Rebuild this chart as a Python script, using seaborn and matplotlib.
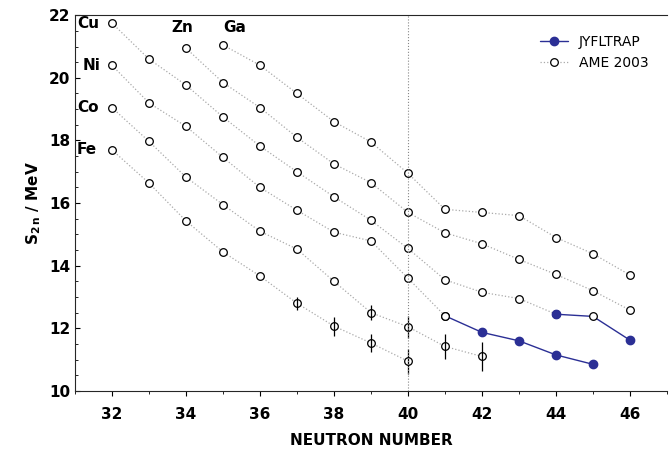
import numpy as np
import matplotlib
matplotlib.use("Agg")
import matplotlib.pyplot as plt
import seaborn as sns
from matplotlib.ticker import MultipleLocator

# AME 2003 chains
fe_n = [32, 33, 34, 35, 36, 37, 38, 39, 40]
fe_s = [17.7, 16.64, 15.43, 14.44, 13.67, 12.8, 12.07, 11.53, 10.95]
fe_e = [0, 0, 0, 0, 0, 0.2, 0.3, 0.3, 0.4]

co_n = [32, 33, 34, 35, 36, 37, 38, 39, 40, 41, 42]
co_s = [19.05, 17.97, 16.83, 15.95, 15.1, 14.53, 13.5, 12.5, 12.05, 11.42, 11.1]
co_e = [0, 0, 0, 0, 0, 0, 0, 0.25, 0.35, 0.4, 0.45]

ni_n = [32, 33, 34, 35, 36, 37, 38, 39, 40, 41]
ni_s = [20.4, 19.2, 18.45, 17.46, 16.5, 15.77, 15.07, 14.79, 13.6, 12.4]

cu_n = [32, 33, 34, 35, 36, 37, 38, 39, 40, 41, 42, 43, 44]
cu_s = [21.75, 20.6, 19.77, 18.75, 17.82, 17.0, 16.2, 15.45, 14.55, 13.55, 13.15, 12.95, 12.45]

zn_n = [34, 35, 36, 37, 38, 39, 40, 41, 42, 43, 44, 45, 46]
zn_s = [20.95, 19.85, 19.05, 18.1, 17.25, 16.65, 15.7, 15.05, 14.7, 14.2, 13.72, 13.2, 12.58]

ga_n = [35, 36, 37, 38, 39, 40, 41, 42, 43, 44, 45, 46]
ga_s = [21.05, 20.4, 19.5, 18.6, 17.95, 16.95, 15.8, 15.7, 15.6, 14.9, 14.38, 13.7]

# JYFLTRAP
ni_j_n = [41, 42, 43, 44, 45]
ni_j_s = [12.4, 11.87, 11.6, 11.15, 10.85]
cu_j_n = [44, 45, 46]
cu_j_s = [12.45, 12.38, 11.62]

labels = ["Cu", "Ni", "Co", "Fe", "Zn", "Ga"]
label_pos = [(31.05, 21.75), (31.2, 20.4), (31.05, 19.05), (31.05, 17.7), (33.6, 21.6), (35.0, 21.6)]

sns.set_style("ticks")
plt.rcParams["text.color"] = "black"
plt.rcParams["xtick.color"] = "black"
plt.rcParams["ytick.color"] = "black"
plt.rcParams["axes.labelcolor"] = "black"
fig = plt.figure(figsize=(6.69, 4.61), dpi=100)
ax = fig.add_axes([0.112, 0.152, 0.885, 0.815])

blue = "#2b2f95"
ame_kw = dict(color="#aaaaaa", lw=0.9, ls=":", marker="o", ms=5.5, mfc="white",
              mec="black", mew=0.9)
for n, s in [(fe_n, fe_s), (co_n, co_s), (ni_n, ni_s), (cu_n, cu_s), (zn_n, zn_s), (ga_n, ga_s)]:
    ax.plot(n, s, **ame_kw)
for n, s, e in [(fe_n, fe_s, fe_e), (co_n, co_s, co_e)]:
    ax.errorbar(n, s, yerr=e, fmt="none", ecolor="black", elinewidth=0.9, capsize=0)

ax.plot(ni_j_n, ni_j_s, color=blue, lw=1)
ax.plot(ni_j_n[1:], ni_j_s[1:], marker="o", ms=6, color=blue, ls="none")
ax.plot(cu_j_n, cu_j_s, color=blue, lw=1)
ax.plot([cu_j_n[0], cu_j_n[2]], [cu_j_s[0], cu_j_s[2]], marker="o", ms=6, color=blue, ls="none")
ax.plot([ni_j_n[0], cu_j_n[1]], [ni_j_s[0], cu_j_s[1]], ls="none", **{k: v for k, v in ame_kw.items() if k not in ("ls",)})

# legend proxies
ax.plot([], [], color=blue, lw=1, marker="o", ms=6, label="JYFLTRAP")
ax.plot([], [], label="AME 2003", **ame_kw)
ax.legend(loc="upper right", frameon=False, fontsize=10, bbox_to_anchor=(0.99, 0.98))

for t, (x, y) in zip(labels, label_pos):
    ax.text(x, y, t, fontsize=11, fontweight="bold", va="center", ha="left")

ax.axvline(40, color="#888888", lw=0.8, ls=":")
ax.set_xlim(31, 47)
ax.set_ylim(10, 22)
ax.xaxis.set_major_locator(MultipleLocator(2))
ax.xaxis.set_minor_locator(MultipleLocator(1))
ax.yaxis.set_major_locator(MultipleLocator(2))
ax.yaxis.set_minor_locator(MultipleLocator(0.5))
ax.tick_params(axis="y", which="both", direction="in", labelsize=11)
ax.tick_params(axis="x", which="both", direction="out", labelsize=11, pad=8)
for lbl in ax.get_xticklabels() + ax.get_yticklabels():
    lbl.set_fontweight("bold")
ax.spines["right"].set_visible(False)
ax.set_xlabel("NEUTRON NUMBER", fontsize=11, fontweight="bold", labelpad=8)
ax.set_ylabel(r"$\mathbf{S_{2\,n}}$ / MeV", fontsize=11, fontweight="bold")

fig.savefig("out.png", dpi=100)
